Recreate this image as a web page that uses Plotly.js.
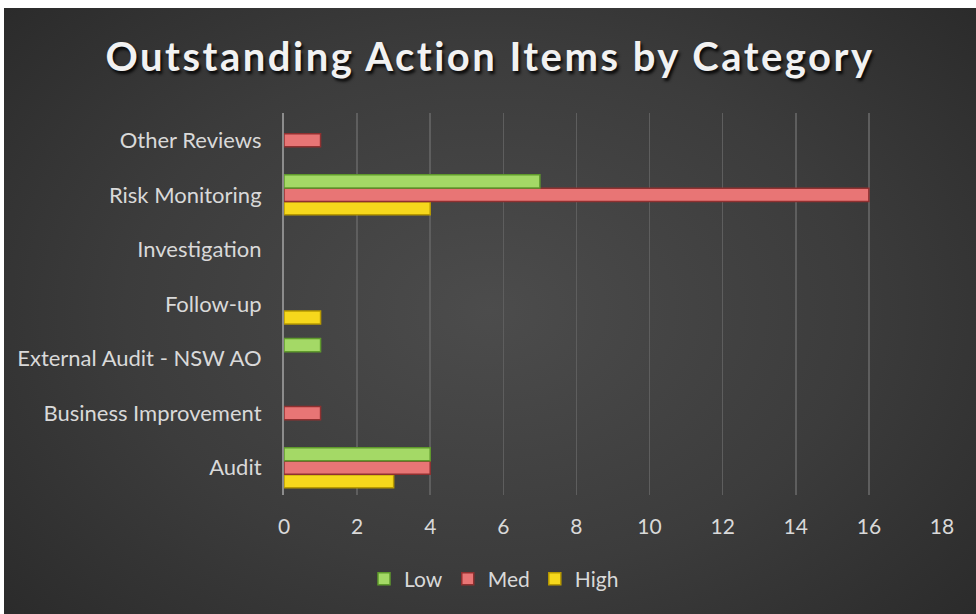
<!DOCTYPE html>
<html>
<head>
<meta charset="utf-8">
<script src="https://cdn.plot.ly/plotly-3.0.1.min.js"></script>
<style>
html,body{margin:0;padding:0;background:#fff;width:976px;height:614px;overflow:hidden;}
#bg{position:absolute;left:4px;top:8px;width:972px;height:606px;
background:radial-gradient(ellipse 75% 85% at 50% 50%, #4c4c4c 0%, #3c3c3c 50%, #262626 100%);}
#chart{position:absolute;left:0;top:0;width:972px;height:606px;}
.gtitle{letter-spacing:2.5px;}
</style>
</head>
<body>
<div id="bg"><div id="chart"></div></div>
<script>
const categories = ["Audit","Business Improvement","External Audit - NSW AO","Follow-up","Investigation","Risk Monitoring","Other Reviews"];
const lowValues  = [4, null, 1, null, null, 7, null];
const medValues  = [4, 1, null, null, null, 16, 1];
const highValues = [3, null, null, 1, null, 4, null];
const seriesNames = ["Low","Med","High"];
const xTicks = [0,2,4,6,8,10,12,14,16,18];

const font = "Lato, 'Open Sans', sans-serif";
function bar(name, vals, color, line){
  return {type:'bar', orientation:'h', name:name, y:categories, x:vals,
    marker:{color:color, line:{color:line, width:1.5}}, hoverinfo:'x+name'};
}
const traces = [
  bar(seriesNames[2], highValues, '#f6d81c', '#b89a00'),
  bar(seriesNames[1], medValues, '#e87575', '#8f3030'),
  bar(seriesNames[0], lowValues, '#a4d966', '#5f9a2c')
];
const layout = {
  width:972, height:606,
  paper_bgcolor:'rgba(0,0,0,0)', plot_bgcolor:'rgba(0,0,0,0)',
  margin:{l:280, r:34, t:105, b:119},
  title:{text:'<b>Outstanding Action Items by Category</b>', x:0.5, xanchor:'center',
    yref:'container', y:1-49/606, yanchor:'middle',
    font:{family:font, size:40, color:'#f2f2f2', shadow:'2px 3px 3px rgba(0,0,0,0.85)'}},
  barmode:'group', bargap:0.26, bargroupgap:0.03,
  xaxis:{range:[0,18], tickvals:xTicks, showgrid:true, gridcolor:'#5e5e5e', gridwidth:1.5,
    zeroline:false, showline:false, ticks:'', ticklabelstandoff:17,
    tickfont:{family:font, size:21, color:'#d9d9d9'}, fixedrange:true},
  yaxis:{type:'category', categoryorder:'array', categoryarray:categories, showgrid:false,
    showline:true, linecolor:'#8c8c8c', linewidth:2, ticks:'', ticklabelstandoff:16,
    tickfont:{family:font, size:22, color:'#d9d9d9'}, fixedrange:true},
  legend:{orientation:'h', xref:'container', x:490/972, xanchor:'center',
    yref:'container', y:1-571/606, yanchor:'middle', traceorder:'reversed',
    font:{family:font, size:21, color:'#d9d9d9'}, itemwidth:30, tracegroupgap:0},
  showlegend:true
};
Plotly.newPlot('chart', traces, layout, {displayModeBar:false, staticPlot:true});
</script>
</body>
</html>
